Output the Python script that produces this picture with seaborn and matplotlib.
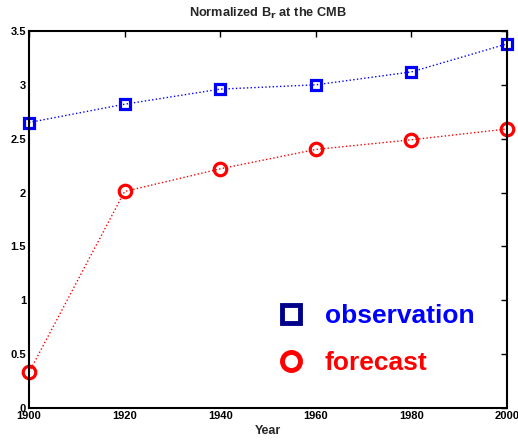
import matplotlib
matplotlib.use("Agg")
import matplotlib.pyplot as plt
from matplotlib.lines import Line2D
import seaborn as sns
import pandas as pd

years = [1900, 1920, 1940, 1960, 1980, 2000]
observation = [2.65, 2.82, 2.96, 3.00, 3.12, 3.38]
forecast = [0.33, 2.01, 2.22, 2.40, 2.49, 2.59]
xticks = [1900, 1920, 1940, 1960, 1980, 2000]
yticks = [0, 0.5, 1, 1.5, 2, 2.5, 3, 3.5]

sns.set_style("white")
plt.rcParams['font.family'] = ['Liberation Sans', 'DejaVu Sans']
plt.rcParams['font.weight'] = 'bold'

df = pd.DataFrame({"Year": years, "observation": observation, "forecast": forecast})

fig = plt.figure(figsize=(5.18, 4.42), dpi=100)
ax = fig.add_axes([0.056, 0.077, 0.923, 0.853])

sns.lineplot(data=df, x="Year", y="observation", ax=ax, color="blue", linestyle=":",
             linewidth=1.0, marker="s", markersize=7, markerfacecolor="none",
             markeredgecolor="blue", markeredgewidth=2.3, clip_on=False)
sns.lineplot(data=df, x="Year", y="forecast", ax=ax, color="red", linestyle=":",
             linewidth=1.0, marker="o", markersize=9, markerfacecolor="none",
             markeredgecolor="red", markeredgewidth=2.3, clip_on=False)

ax.set_xlim(1900, 2000)
ax.set_ylim(0, 3.5)
ax.set_xticks(xticks)
ax.set_xticklabels([str(t) for t in xticks])
ax.set_yticks(yticks)
ax.set_yticklabels(["0", "0.5", "1", "1.5", "2", "2.5", "3", "3.5"])
ax.tick_params(direction="in", length=4, width=1, labelsize=8, top=True, right=True,
               pad=2, colors="black")
for lab in ax.get_xticklabels() + ax.get_yticklabels():
    lab.set_fontweight("bold")
for s in ax.spines.values():
    s.set_visible(True)
    s.set_color("black")
    s.set_linewidth(1.5)
ax.set_xlabel("Year", fontsize=9, fontweight="bold", labelpad=3)
ax.set_ylabel("")
ax.set_title(r"Normalized B$_{\mathbf{r}}$ at the CMB", fontsize=9.2, fontweight="bold", pad=10)

handles = [
    Line2D([], [], linestyle="none", marker="s", markersize=13, markerfacecolor="none",
           markeredgecolor="#00008b", markeredgewidth=3.5),
    Line2D([], [], linestyle="none", marker="o", markersize=13, markerfacecolor="none",
           markeredgecolor="red", markeredgewidth=3.5),
]
leg = ax.legend(handles, ["observation", "forecast"], loc="lower left",
                bbox_to_anchor=(0.443, 0.025), frameon=False,
                prop={"size": 19, "weight": "bold"}, labelcolor=["blue", "red"],
                handletextpad=0.29, labelspacing=0.86)

fig.savefig("out.png", dpi=100)
